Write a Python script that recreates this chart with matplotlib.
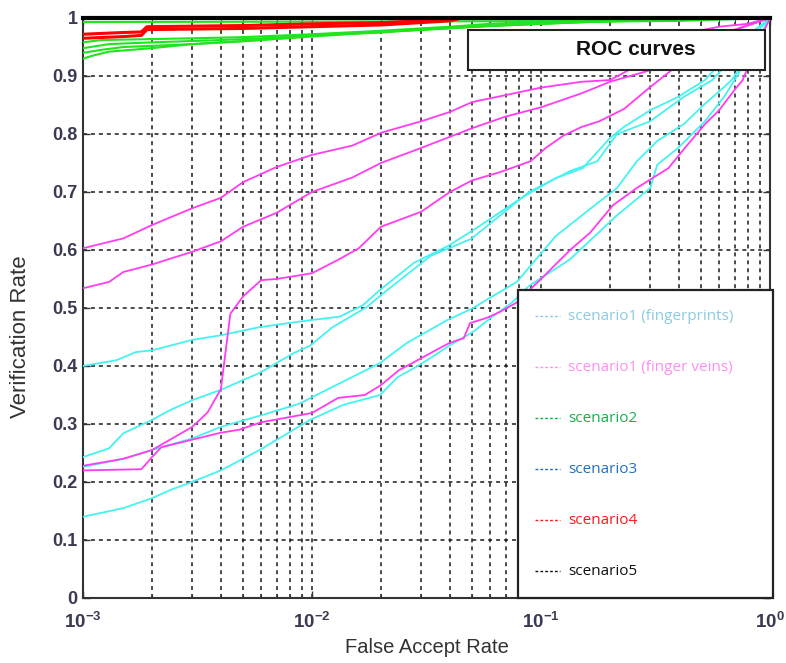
import matplotlib
matplotlib.use('Agg')
import matplotlib.pyplot as plt
from matplotlib.patches import Rectangle
from matplotlib.ticker import FixedLocator, NullFormatter, LogLocator

plt.rcParams['font.family'] = ['Liberation Sans', 'DejaVu Sans']
plt.rcParams['mathtext.default'] = 'regular'

# ---------------- data ----------------
# scenario1 (fingerprints) - cyan
fp_a_far = [0.001, 0.0014, 0.0017, 0.002, 0.003, 0.004, 0.0059, 0.0098, 0.0132, 0.0167, 0.0198, 0.0279,
            0.0393, 0.0514, 0.0824, 0.116, 0.152, 0.2, 0.23, 0.30, 0.397, 0.52, 0.74, 1.0]
fp_a_tar = [0.40, 0.41, 0.424, 0.427, 0.445, 0.453, 0.467, 0.479, 0.485, 0.505, 0.531, 0.578,
            0.607, 0.636, 0.69, 0.724, 0.741, 0.793, 0.812, 0.841, 0.864, 0.893, 0.96, 1.0]
fp_b_far = [0.001, 0.0013, 0.0015, 0.002, 0.0024, 0.003, 0.004, 0.0059, 0.0083, 0.0098, 0.0123, 0.0174,
            0.0204, 0.033, 0.0495, 0.0886, 0.134, 0.176, 0.215, 0.30, 0.42, 0.56, 0.8, 1.0]
fp_b_tar = [0.243, 0.258, 0.284, 0.307, 0.324, 0.341, 0.359, 0.388, 0.422, 0.435, 0.467, 0.502,
            0.525, 0.59, 0.619, 0.70, 0.736, 0.753, 0.80, 0.822, 0.864, 0.893, 0.96, 1.0]
fp_c_far = [0.001, 0.0015, 0.0022, 0.003, 0.004, 0.006, 0.0088, 0.0123, 0.0198, 0.026, 0.0389, 0.0506,
            0.0578, 0.0784, 0.116, 0.164, 0.215, 0.262, 0.322, 0.42, 0.52, 0.63, 0.68, 0.85, 1.0]
fp_c_tar = [0.226, 0.24, 0.26, 0.275, 0.295, 0.315, 0.335, 0.364, 0.405, 0.44, 0.479, 0.50,
            0.514, 0.545, 0.624, 0.671, 0.707, 0.753, 0.788, 0.817, 0.852, 0.881, 0.893, 0.95, 1.0]
fp_d_far = [0.001, 0.0015, 0.002, 0.0024, 0.0029, 0.004, 0.0059, 0.0098, 0.0137, 0.0198, 0.0237, 0.0284,
            0.0336, 0.0401, 0.0506, 0.0608, 0.0745, 0.0886, 0.134, 0.215, 0.30, 0.322, 0.397, 0.52,
            0.63, 0.70, 0.85, 1.0]
fp_d_tar = [0.14, 0.155, 0.172, 0.186, 0.198, 0.22, 0.255, 0.307, 0.333, 0.35, 0.381, 0.398,
            0.416, 0.436, 0.459, 0.484, 0.509, 0.538, 0.584, 0.66, 0.707, 0.747, 0.776, 0.822,
            0.864, 0.893, 0.95, 1.0]

# scenario1 (finger veins) - magenta
fv_a_far = [0.001, 0.0015, 0.002, 0.003, 0.004, 0.005, 0.007, 0.01, 0.015, 0.02, 0.03, 0.04, 0.05,
            0.07, 0.1, 0.15, 0.2, 0.3, 0.45, 0.6, 0.8, 1.0]
fv_a_tar = [0.603, 0.62, 0.643, 0.672, 0.69, 0.717, 0.743, 0.764, 0.78, 0.802, 0.822, 0.838, 0.855,
            0.867, 0.88, 0.89, 0.893, 0.93, 0.975, 0.985, 0.99, 1.0]
fv_b_far = [0.001, 0.0013, 0.0015, 0.002, 0.003, 0.004, 0.005, 0.007, 0.01, 0.015, 0.02, 0.03, 0.05,
            0.07, 0.1, 0.15, 0.2, 0.3, 0.45, 0.7, 1.0]
fv_b_tar = [0.534, 0.545, 0.562, 0.575, 0.597, 0.615, 0.64, 0.664, 0.70, 0.725, 0.75, 0.776, 0.81,
            0.83, 0.846, 0.87, 0.89, 0.91, 0.95, 0.98, 1.0]
fv_c_far = [0.001, 0.0015, 0.002, 0.003, 0.0035, 0.004, 0.0044, 0.005, 0.006, 0.007, 0.01, 0.013,
            0.016, 0.02, 0.03, 0.04, 0.05, 0.066, 0.09, 0.105, 0.125, 0.15, 0.18, 0.23, 0.3, 0.4,
            0.6, 1.0]
fv_c_tar = [0.228, 0.24, 0.255, 0.295, 0.32, 0.36, 0.49, 0.52, 0.548, 0.55, 0.56, 0.583,
            0.603, 0.64, 0.666, 0.70, 0.72, 0.734, 0.753, 0.776, 0.797, 0.812, 0.822, 0.843, 0.881, 0.92,
            0.97, 1.0]
fv_d_far = [0.001, 0.0018, 0.002, 0.0022, 0.004, 0.0048, 0.006, 0.01, 0.013, 0.017, 0.02, 0.024,
            0.028, 0.035, 0.04, 0.046, 0.049, 0.058, 0.066, 0.078, 0.1, 0.134, 0.164, 0.206, 0.262,
            0.36, 0.425, 0.52, 0.6, 0.7, 0.76, 0.85, 1.0]
fv_d_tar = [0.22, 0.222, 0.243, 0.26, 0.285, 0.29, 0.303, 0.319, 0.345, 0.35, 0.367, 0.393,
            0.407, 0.428, 0.44, 0.448, 0.474, 0.483, 0.493, 0.509, 0.55, 0.60, 0.63, 0.677, 0.707,
            0.741, 0.776, 0.817, 0.841, 0.876, 0.893, 0.94, 1.0]

# scenario2 - green
s2_a_far = [0.001, 0.4, 0.45, 1.0]
s2_a_tar = [0.993, 0.995, 1.0, 1.0]
s2_b_far = [0.001, 0.0012, 0.003, 0.005, 0.01, 0.02, 0.04, 0.06, 0.1, 0.4, 1.0]
s2_b_tar = [0.958, 0.962, 0.965, 0.967, 0.972, 0.978, 0.985, 0.99, 0.993, 0.995, 1.0]
s2_c_far = [0.001, 0.0013, 0.002, 0.004, 0.006, 0.01, 0.02, 0.03, 0.05, 0.1, 0.2, 0.3, 1.0]
s2_c_tar = [0.948, 0.955, 0.958, 0.962, 0.965, 0.97, 0.975, 0.98, 0.985, 0.99, 0.995, 1.0, 1.0]
s2_d_far = [0.001, 0.0012, 0.0015, 0.002, 0.003, 0.005, 0.01, 0.02, 0.03, 0.05, 0.1, 0.3, 1.0]
s2_d_tar = [0.94, 0.945, 0.95, 0.952, 0.955, 0.96, 0.968, 0.976, 0.98, 0.985, 0.99, 0.997, 1.0]
s2_e_far = [0.001, 0.0011, 0.0013, 0.002, 0.003, 0.005, 0.008, 0.01, 0.02, 0.04, 0.07, 0.15, 0.5, 1.0]
s2_e_tar = [0.93, 0.935, 0.942, 0.948, 0.955, 0.96, 0.966, 0.97, 0.976, 0.982, 0.988, 0.993, 0.998, 1.0]

# scenario3 - blue, scenario5 - black (both at 1)
s3_far = [0.001, 1.0]
s3_tar = [1.0, 1.0]
s5_far = [0.001, 1.0]
s5_tar = [1.0, 1.0]

# scenario4 - red
s4_a_far = [0.001, 0.0015, 0.0018, 0.0019, 0.005, 0.01, 0.02, 0.04, 0.045, 1.0]
s4_a_tar = [0.965, 0.968, 0.97, 0.98, 0.982, 0.985, 0.988, 0.995, 1.0, 1.0]
s4_b_far = [0.001, 0.0015, 0.0018, 0.0019, 0.005, 0.01, 0.02, 0.03, 0.04, 1.0]
s4_b_tar = [0.972, 0.975, 0.976, 0.985, 0.987, 0.99, 0.992, 0.995, 1.0, 1.0]

legend_labels = ['scenario1 (fingerprints)', 'scenario1 (finger veins)', 'scenario2',
                 'scenario3', 'scenario4', 'scenario5']
legend_colors = ['#8ccbe0', '#ff8ef2', '#14b04c', '#1f6fc2', '#ff1a1a', '#111111']

x_ticks = [1e-3, 1e-2, 1e-1, 1e0]
x_tick_labels = ['$10^{-3}$', '$10^{-2}$', '$10^{-1}$', '$10^{0}$']
y_ticks = [0, 0.1, 0.2, 0.3, 0.4, 0.5, 0.6, 0.7, 0.8, 0.9, 1.0]
y_tick_labels = ['0', '0.1', '0.2', '0.3', '0.4', '0.5', '0.6', '0.7', '0.8', '0.9', '1']

title_text = 'ROC curves'
x_label = 'False Accept Rate'
y_label = 'Verification Rate'

# ---------------- figure ----------------
CYAN = '#45f2f2'
MAGENTA = '#ff3cf2'
GREEN = '#1ee61e'
RED = '#ff0000'

fig = plt.figure(figsize=(7.86, 6.63), dpi=100)
ax = fig.add_axes([83 / 786, 1 - 598 / 663, (770 - 83) / 786, (598 - 18) / 663])

lw = 1.3
for far, tar in [(fp_a_far, fp_a_tar), (fp_b_far, fp_b_tar), (fp_c_far, fp_c_tar), (fp_d_far, fp_d_tar)]:
    ax.plot(far, tar, color=CYAN, lw=lw, zorder=3)
for far, tar in [(fv_a_far, fv_a_tar), (fv_b_far, fv_b_tar), (fv_c_far, fv_c_tar), (fv_d_far, fv_d_tar)]:
    ax.plot(far, tar, color=MAGENTA, lw=lw, zorder=3)
for far, tar in [(s2_a_far, s2_a_tar), (s2_b_far, s2_b_tar), (s2_c_far, s2_c_tar),
                 (s2_d_far, s2_d_tar), (s2_e_far, s2_e_tar)]:
    ax.plot(far, tar, color=GREEN, lw=1.5, zorder=4)
for far, tar in [(s4_a_far, s4_a_tar), (s4_b_far, s4_b_tar)]:
    ax.plot(far, tar, color=RED, lw=2.2, zorder=5)
ax.plot(s3_far, s3_tar, color='#0070c0', lw=lw, zorder=6)
ax.plot(s5_far, s5_tar, color='black', lw=3.0, zorder=7, clip_on=False)

ax.set_xscale('log')
ax.set_xlim(1e-3, 1)
ax.set_ylim(0, 1)

ax.xaxis.set_major_locator(FixedLocator(x_ticks))
ax.set_xticklabels(x_tick_labels)
ax.xaxis.set_minor_locator(LogLocator(base=10, subs=range(2, 10), numticks=20))
ax.xaxis.set_minor_formatter(NullFormatter())
ax.set_yticks(y_ticks)
ax.set_yticklabels(y_tick_labels)

ax.grid(True, which='major', axis='both', color='#1a1a1a', linestyle=(0, (2.6, 2.6)), lw=1.1, zorder=1)
ax.grid(True, which='minor', axis='x', color='#1a1a1a', linestyle=(0, (2.6, 2.6)), lw=1.1, zorder=1)
ax.set_axisbelow(True)

ax.tick_params(which='both', direction='in', top=True, right=True, color='#333333')
ax.tick_params(which='major', length=5, width=1.0)
ax.tick_params(which='minor', length=3, width=0.8)
ax.tick_params(axis='y', labelsize=13, labelcolor='#3a3a52', pad=4)
ax.tick_params(axis='x', labelsize=13.5, labelcolor='#3a3a52', pad=10)
for lab in ax.get_yticklabels():
    lab.set_fontweight('bold')
for lab in ax.get_xticklabels():
    lab.set_fontweight('bold')

for sp in ax.spines.values():
    sp.set_color('#333333')
    sp.set_linewidth(1.5)

ax.set_xlabel(x_label, fontsize=14.5, color='#333333', labelpad=4)
ax.set_ylabel(y_label, fontsize=16, color='#333333')
ax.yaxis.set_label_coords(-0.075, 0.45)

# title box inside the axes
ax.add_patch(Rectangle((0.560, 0.910), 0.433, 0.069, transform=ax.transAxes,
                       facecolor='white', edgecolor='#222222', lw=1.5, zorder=20))
ax.text(0.805, 0.945, title_text, transform=ax.transAxes, ha='center', va='center',
        fontsize=15, fontweight='bold', color='#111111', zorder=21)

# legend box (manual)
ax.add_patch(Rectangle((0.633, 0.0), 0.371, 0.531, transform=ax.transAxes,
                       facecolor='white', edgecolor='#222222', lw=1.6, zorder=20, clip_on=False))
leg_y = [0.486, 0.398, 0.310, 0.222, 0.134, 0.046]
for yy, lab, col in zip(leg_y, legend_labels, legend_colors):
    ax.plot([0.658, 0.694], [yy, yy], transform=ax.transAxes, color=col, lw=1.0,
            linestyle=(0, (2, 1.5)), zorder=21, clip_on=False)
    ax.text(0.706, yy, lab, transform=ax.transAxes, ha='left', va='center', fontsize=11,
            color=col, family=['Open Sans', 'DejaVu Sans'], zorder=21)

fig.savefig('out.png', dpi=100)
